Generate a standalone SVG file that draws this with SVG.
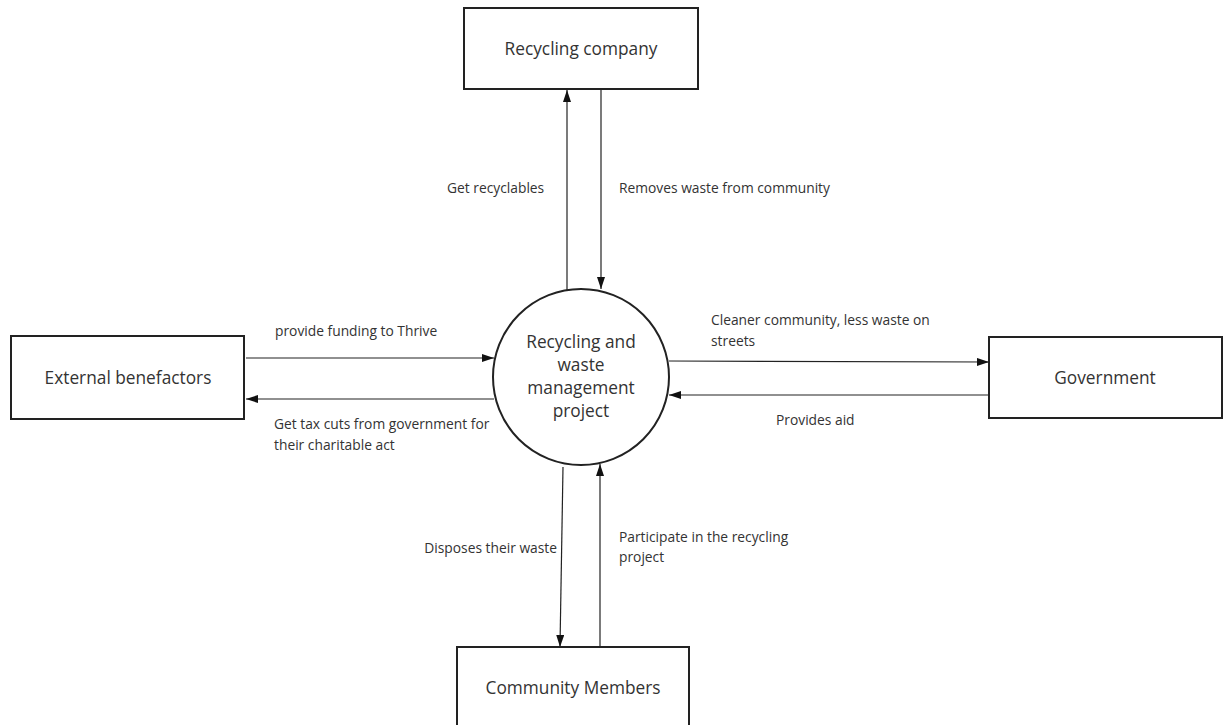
<svg xmlns="http://www.w3.org/2000/svg" width="1226" height="725" viewBox="0 0 1226 725">
  <style>
    .box { fill: #ffffff; stroke: #222222; stroke-width: 2; }
    .proc { fill: #ffffff; stroke: #222222; stroke-width: 2; }
    .flow { fill: none; stroke: #222222; stroke-width: 1.2; }
    .node-text { font-family: "Open Sans", "Liberation Sans", sans-serif; font-size: 17.3px; fill: #333333; text-anchor: middle; }
    .proc-text { font-family: "Open Sans", "Liberation Sans", sans-serif; font-size: 17.3px; fill: #333333; text-anchor: middle; }
    .label { font-family: "Open Sans", "Liberation Sans", sans-serif; font-size: 13.8px; fill: #333333; }
  </style>
  <defs>
    <marker id="arrow" viewBox="0 0 12 8" refX="12" refY="4" markerWidth="12" markerHeight="8" markerUnits="userSpaceOnUse" orient="auto">
      <path d="M0,0 L12,4 L0,8 Z" fill="#111111"/>
    </marker>
  </defs>
  <rect width="1226" height="725" fill="#ffffff"/>

  <!-- data flows -->
  <g id="connectors">
    <line class="flow" x1="567" y1="291" x2="567" y2="90" marker-end="url(#arrow)"/>
    <line class="flow" x1="601" y1="90" x2="601" y2="289" marker-end="url(#arrow)"/>
    <line class="flow" x1="246" y1="358" x2="494" y2="358" marker-end="url(#arrow)"/>
    <line class="flow" x1="494" y1="399" x2="246" y2="399" marker-end="url(#arrow)"/>
    <line class="flow" x1="669" y1="361" x2="989" y2="362" marker-end="url(#arrow)"/>
    <line class="flow" x1="989" y1="395" x2="669" y2="395" marker-end="url(#arrow)"/>
    <line class="flow" x1="563" y1="467" x2="560" y2="647" marker-end="url(#arrow)"/>
    <line class="flow" x1="600" y1="647" x2="600" y2="464" marker-end="url(#arrow)"/>

    <text class="label" x="447" y="193">Get recyclables</text>
    <text class="label" x="619" y="193">Removes waste from community</text>
    <text class="label" x="275" y="336">provide funding to Thrive</text>
    <text class="label" x="274" y="429">Get tax cuts from government for</text>
    <text class="label" x="274" y="450">their charitable act</text>
    <text class="label" x="711" y="325">Cleaner community, less waste on</text>
    <text class="label" x="711" y="346">streets</text>
    <text class="label" x="776" y="425">Provides aid</text>
    <text class="label" x="557" y="553" text-anchor="end">Disposes their waste</text>
    <text class="label" x="619" y="542">Participate in the recycling</text>
    <text class="label" x="619" y="562">project</text>
  </g>

  <g id="recycling-company">
    <rect class="box" x="464" y="8" width="234" height="81"/>
    <text class="node-text" x="581" y="55">Recycling company</text>
  </g>

  <g id="external-benefactors">
    <rect class="box" x="11" y="336" width="233" height="83"/>
    <text class="node-text" x="128" y="384">External benefactors</text>
  </g>

  <g id="government">
    <rect class="box" x="989" y="337" width="233" height="81"/>
    <text class="node-text" x="1105" y="384">Government</text>
  </g>

  <g id="community-members">
    <rect class="box" x="457" y="647" width="232" height="90"/>
    <text class="node-text" x="573" y="694">Community Members</text>
  </g>

  <g id="project">
    <circle class="proc" cx="581" cy="377" r="88"/>
    <text class="proc-text" x="581" y="348">Recycling and</text>
    <text class="proc-text" x="581" y="371">waste</text>
    <text class="proc-text" x="581" y="394">management</text>
    <text class="proc-text" x="581" y="417">project</text>
  </g>
</svg>
